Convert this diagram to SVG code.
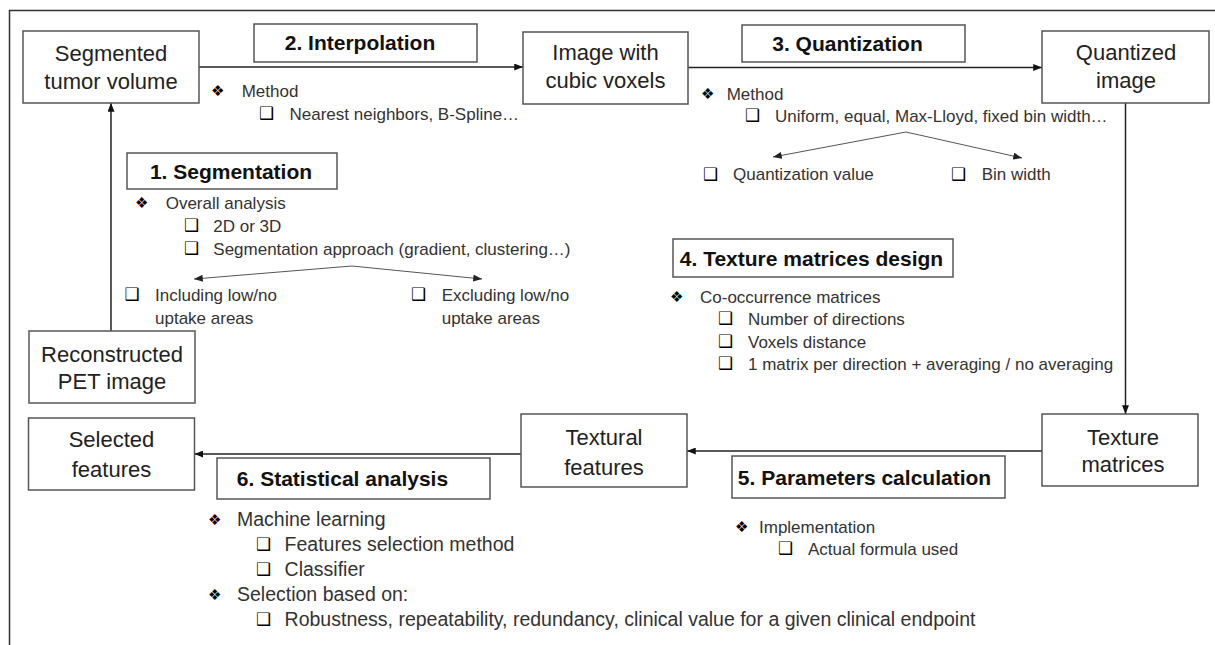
<svg xmlns="http://www.w3.org/2000/svg" width="1215" height="645" viewBox="0 0 1215 645">
<defs>
<marker id="ah" viewBox="0 0 10 8" refX="10" refY="4" markerWidth="9" markerHeight="7" markerUnits="userSpaceOnUse" orient="auto"><path d="M0,0 L10,4 L0,8 z" fill="#111"/></marker>
<marker id="ahs" viewBox="0 0 10 8" refX="10" refY="4" markerWidth="9" markerHeight="7" markerUnits="userSpaceOnUse" orient="auto"><path d="M0,0 L10,4 L0,8 z" fill="#222"/></marker>
</defs>
<style>
.node rect{fill:#fff;stroke:#555;stroke-width:1.5}
.lbl rect{fill:#fff;stroke:#555;stroke-width:1.5}
.nt{font-family:"Liberation Sans",Arial,sans-serif;font-size:22px;fill:#222;text-anchor:middle}
.lt{font-family:"Liberation Sans",Arial,sans-serif;font-size:21px;font-weight:bold;fill:#111;text-anchor:middle}
.it{font-family:"Liberation Sans",Arial,sans-serif;font-size:17px;fill:#333}
.big{font-size:19.5px}
.sq{font-family:"DejaVu Sans",sans-serif;font-size:17px;font-weight:bold;fill:#000}
.dm{font-family:"DejaVu Sans",sans-serif;font-size:15px;fill:#000}
.conn line{stroke:#222;stroke-width:1.5;fill:none}
.br{stroke:#555;stroke-width:1;fill:none}
.frame{stroke:#333;stroke-width:1.5;fill:none}
</style>
<rect x="0" y="0" width="1215" height="645" fill="#fff"/>
<path class="frame" d="M9.5,645 V10.5 H1215"/>

<g id="conn" class="conn">
<line x1="199" y1="67" x2="523" y2="67" marker-end="url(#ah)"/>
<line x1="688" y1="67.5" x2="1042" y2="67.5" marker-end="url(#ah)"/>
<line x1="1125.5" y1="103" x2="1125.5" y2="414" marker-end="url(#ah)"/>
<line x1="1042" y1="451" x2="687" y2="451" marker-end="url(#ah)"/>
<line x1="521" y1="454" x2="194.5" y2="454" marker-end="url(#ah)"/>
<line x1="111" y1="331" x2="111" y2="103" marker-end="url(#ah)"/>
<polyline class="br" points="906,132 773,157" marker-end="url(#ahs)"/>
<polyline class="br" points="906,132 1022,158" marker-end="url(#ahs)"/>
<polyline class="br" points="352,266 194,279" marker-end="url(#ahs)"/>
<polyline class="br" points="352,266 482,279" marker-end="url(#ahs)"/>
</g>

<g id="seg" class="node"><rect x="23" y="31" width="176" height="72"/><text class="nt" x="111" y="61">Segmented</text><text class="nt" x="111" y="89">tumor volume</text></g>
<g id="img" class="node"><rect x="523" y="32" width="165" height="72"/><text class="nt" x="605.5" y="60">Image with</text><text class="nt" x="605.5" y="88">cubic voxels</text></g>
<g id="quant" class="node"><rect x="1042" y="31" width="167" height="72"/><text class="nt" x="1126" y="60">Quantized</text><text class="nt" x="1126" y="88">image</text></g>
<g id="recon" class="node"><rect x="29" y="331" width="166" height="72"/><text class="nt" x="112" y="362">Reconstructed</text><text class="nt" x="112" y="389">PET image</text></g>
<g id="selected" class="node"><rect x="28.5" y="418" width="166" height="72"/><text class="nt" x="111.5" y="447">Selected</text><text class="nt" x="111.5" y="477">features</text></g>
<g id="textural" class="node"><rect x="521" y="414" width="166" height="73"/><text class="nt" x="604" y="445">Textural</text><text class="nt" x="604" y="475">features</text></g>
<g id="texmat" class="node"><rect x="1042" y="414" width="156" height="72"/><text class="nt" x="1123" y="445">Texture</text><text class="nt" x="1123" y="472">matrices</text></g>

<g id="lbl-interp" class="lbl"><rect x="254" y="24" width="223" height="38"/><text class="lt" x="360" y="50">2. Interpolation</text></g>
<g id="lbl-quant" class="lbl"><rect x="742" y="25" width="223" height="37"/><text class="lt" x="847.5" y="51">3. Quantization</text></g>
<g id="lbl-seg" class="lbl"><rect x="127" y="153" width="210" height="36"/><text class="lt" x="231" y="179">1. Segmentation</text></g>
<g id="lbl-tex" class="lbl"><rect x="673" y="239" width="280" height="38"/><text class="lt" x="811.5" y="265.5">4. Texture matrices design</text></g>
<g id="lbl-param" class="lbl"><rect x="732" y="456" width="273" height="42"/><text class="lt" x="864.5" y="484.5">5. Parameters calculation</text></g>
<g id="lbl-stat" class="lbl"><rect x="217" y="458" width="273" height="41"/><text class="lt" x="342.5" y="486">6. Statistical analysis</text></g>

<g id="list-interp">
<text class="dm" x="211" y="96">❖</text><text class="it" x="241.7" y="97">Method</text>
<text class="sq" x="259" y="119">❑</text><text class="it" x="289.5" y="120">Nearest neighbors, B-Spline…</text>
</g>
<g id="list-quant">
<text class="dm" x="701" y="99">❖</text><text class="it" x="726.7" y="100">Method</text>
<text class="sq" x="745" y="121">❑</text><text class="it" x="775" y="121.7">Uniform, equal, Max-Lloyd, fixed bin width…</text>
<text class="sq" x="703" y="180">❑</text><text class="it" x="733" y="180">Quantization value</text>
<text class="sq" x="951" y="180">❑</text><text class="it" x="981.7" y="180">Bin width</text>
</g>
<g id="list-seg">
<text class="dm" x="135" y="208">❖</text><text class="it" x="165.7" y="209">Overall analysis</text>
<text class="sq" x="184" y="231">❑</text><text class="it" x="213.3" y="232">2D or 3D</text>
<text class="sq" x="184" y="254">❑</text><text class="it" x="213.3" y="255">Segmentation approach (gradient, clustering…)</text>
<text class="sq" x="124.5" y="300">❑</text><text class="it" x="155" y="301">Including low/no</text><text class="it" x="155" y="324">uptake areas</text>
<text class="sq" x="411" y="300">❑</text><text class="it" x="441.7" y="301">Excluding low/no</text><text class="it" x="441.7" y="324">uptake areas</text>
</g>
<g id="list-tex">
<text class="dm" x="670" y="302">❖</text><text class="it" x="700" y="303">Co-occurrence matrices</text>
<text class="sq" x="718" y="324">❑</text><text class="it" x="748" y="325">Number of directions</text>
<text class="sq" x="718" y="347">❑</text><text class="it" x="748" y="347.7">Voxels distance</text>
<text class="sq" x="718" y="369">❑</text><text class="it" x="748" y="370">1 matrix per direction + averaging / no averaging</text>
</g>
<g id="list-param">
<text class="dm" x="735" y="532">❖</text><text class="it" x="759" y="533">Implementation</text>
<text class="sq" x="778" y="554">❑</text><text class="it" x="808" y="555">Actual formula used</text>
</g>
<g id="list-stat">
<text class="dm" x="208" y="525">❖</text><text class="it big" x="237" y="526">Machine learning</text>
<text class="sq" x="256" y="550">❑</text><text class="it big" x="284.6" y="551">Features selection method</text>
<text class="sq" x="256" y="575">❑</text><text class="it big" x="284.6" y="576">Classifier</text>
<text class="dm" x="208" y="600">❖</text><text class="it big" x="237" y="601">Selection based on:</text>
<text class="sq" x="256" y="625">❑</text><text class="it big" x="284.6" y="626">Robustness, repeatability, redundancy, clinical value for a given clinical endpoint</text>
</g>
</svg>
